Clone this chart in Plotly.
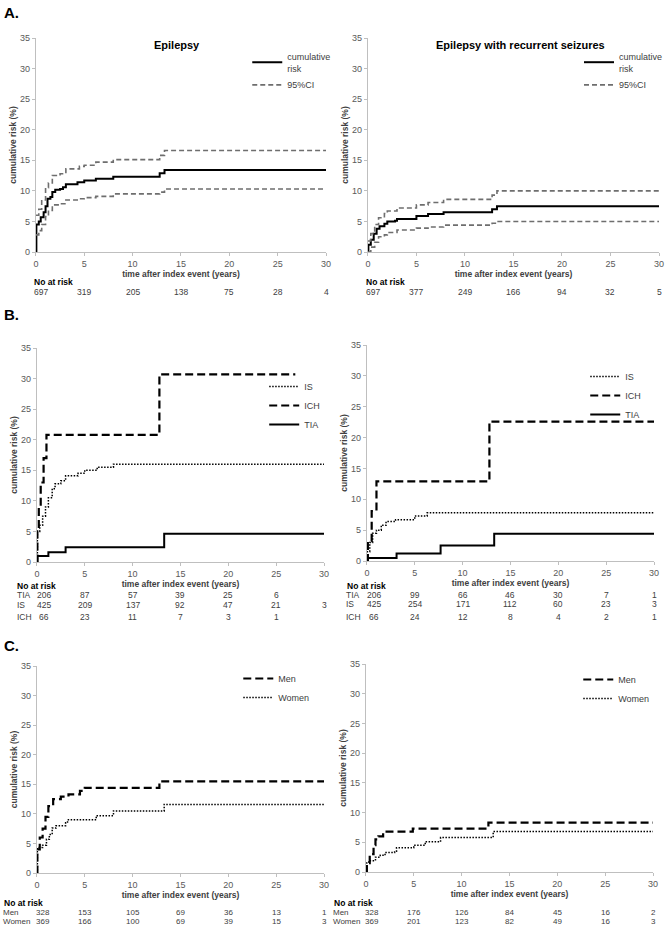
import plotly.graph_objects as go

W, H = 668, 928
FONT = "Arial, Liberation Sans, sans-serif"

# ---------------- data ----------------
RISK_TICKS = [0, 5, 10, 15, 20, 25, 30]

# A left: Epilepsy
A1_t = [0, 0.05, 0.3, 0.5, 0.8, 1.0, 1.2, 1.5, 1.7, 2.0, 2.5, 2.8, 3.1, 4.3, 5.0, 6.2, 8.0, 12.8, 13.3, 30]
A1_risk = [0, 4.5, 5.0, 5.7, 6.5, 7.5, 8.7, 9.0, 9.8, 10.2, 10.3, 10.6, 11.1, 11.4, 11.7, 12.0, 12.3, 12.9, 13.4, 13.4]
A1_ci_t = [0, 0.3, 0.6, 1.0, 1.3, 1.7, 2.5, 3.1, 4.5, 5.0, 6.2, 8.0, 12.8, 13.3, 30]
A1_upper = [6.0, 7.0, 8.5, 10.5, 11.3, 12.5, 12.8, 13.6, 14.0, 14.2, 14.7, 15.1, 15.8, 16.6, 16.6]
A1_lower = [2.8, 3.5, 4.5, 5.8, 6.8, 7.7, 7.9, 8.5, 8.7, 8.9, 9.1, 9.5, 9.8, 10.3, 10.3]
A1_at_risk = [697, 319, 205, 138, 75, 28, 4]

# A right: Epilepsy with recurrent seizures
A2_t = [0, 0.05, 0.3, 0.6, 0.9, 1.2, 1.7, 2.0, 2.8, 3.0, 5.0, 6.2, 7.8, 12.8, 13.3, 30]
A2_risk = [0, 1.2, 2.0, 3.0, 3.8, 4.2, 4.6, 5.0, 5.1, 5.4, 5.9, 6.2, 6.5, 7.0, 7.5, 7.5]
A2_ci_t = [0, 0.3, 0.7, 1.1, 1.7, 2.0, 3.0, 5.0, 6.2, 7.8, 12.8, 13.3, 30]
A2_upper = [1.8, 3.0, 4.5, 5.6, 6.3, 6.7, 7.2, 7.7, 8.1, 8.6, 9.3, 10.0, 10.0]
A2_lower = [0.0, 0.8, 1.6, 2.5, 2.8, 3.2, 3.6, 3.9, 4.1, 4.4, 4.7, 5.0, 5.0]
A2_at_risk = [697, 377, 249, 166, 94, 32, 5]

# B left
B1_ich_t = [0, 0.05, 0.2, 0.4, 0.7, 1.0, 12.8, 27.0]
B1_ich = [0, 5.0, 9.0, 13.0, 17.0, 20.8, 30.7, 30.7]
B1_is_t = [0, 0.05, 0.3, 0.6, 0.9, 1.2, 1.6, 1.9, 2.5, 3.0, 4.3, 5.0, 6.3, 8.0, 30]
B1_is = [0, 5.0, 6.0, 7.5, 9.0, 10.5, 12.0, 12.8, 13.3, 14.1, 14.5, 15.0, 15.5, 16.0, 16.0]
B1_tia_t = [0, 0.05, 1.2, 3.0, 13.3, 30]
B1_tia = [0, 1.0, 1.6, 2.4, 4.6, 4.6]
B1_at_risk_tia = [206, 87, 57, 39, 25, 6]
B1_at_risk_is = [425, 209, 137, 92, 47, 21, 3]
B1_at_risk_ich = [66, 23, 11, 7, 3, 1]

# B right
B2_ich_t = [0, 0.1, 0.5, 1.0, 12.8, 30]
B2_ich = [0, 3.2, 8.1, 12.9, 22.6, 22.6]
B2_is_t = [0, 0.05, 0.3, 0.6, 1.0, 1.5, 2.0, 3.0, 5.0, 6.3, 30]
B2_is = [0, 1.5, 3.0, 4.5, 5.0, 5.8, 6.4, 6.7, 7.3, 7.8, 7.8]
B2_tia_t = [0, 0.05, 3.1, 7.7, 13.3, 30]
B2_tia = [0, 0.5, 1.2, 2.5, 4.4, 4.4]
B2_at_risk_tia = [206, 99, 66, 46, 30, 7, 1]
B2_at_risk_is = [425, 254, 171, 112, 60, 23, 3]
B2_at_risk_ich = [66, 24, 12, 8, 4, 2, 1]

# C left
C1_men_t = [0, 0.05, 0.3, 0.6, 0.9, 1.2, 1.7, 2.5, 3.3, 4.5, 5.0, 12.8, 30]
C1_men = [0, 4.0, 6.0, 7.5, 9.5, 11.3, 12.5, 12.9, 13.3, 13.9, 14.4, 15.5, 15.5]
C1_women_t = [0, 0.05, 0.6, 1.0, 1.3, 1.6, 2.0, 3.0, 3.2, 6.2, 8.0, 13.3, 30]
C1_women = [0, 4.3, 4.7, 5.7, 6.5, 7.6, 8.0, 8.5, 9.0, 9.7, 10.5, 11.6, 11.6]
C1_at_risk_men = [328, 153, 105, 69, 36, 13, 1]
C1_at_risk_women = [369, 166, 100, 69, 39, 15, 3]

# C right
C2_men_t = [0, 0.1, 0.4, 0.8, 1.0, 1.3, 1.8, 4.9, 12.8, 30]
C2_men = [0, 1.5, 3.0, 4.5, 5.5, 6.0, 6.8, 7.3, 8.3, 8.3]
C2_women_t = [0, 0.05, 0.3, 1.0, 1.5, 2.0, 3.0, 3.2, 5.0, 6.2, 7.8, 13.3, 30]
C2_women = [0, 1.5, 1.9, 2.5, 2.8, 3.3, 3.5, 4.1, 4.5, 5.1, 5.8, 6.8, 6.8]
C2_at_risk_men = [328, 176, 126, 84, 45, 16, 2]
C2_at_risk_women = [369, 201, 123, 82, 49, 16, 3]

# ---------------- layout helpers ----------------
def px(x):
    return x / W

def py(y):
    return 1 - y / H

# plot areas in pixels: (left, right, top, bottom)
PANELS = [
    (36, 327, 38, 252),
    (369, 661, 38, 252),
    (37, 325, 348, 562),
    (368, 656, 345, 561),
    (37, 325, 666, 873),
    (367, 655, 664, 872),
]

fig = go.Figure()

BLACK = "#000000"
GREY = "#6e6e6e"

def add(i, t, v, name, color, width, dash, legend, show=True, group=None):
    sfx = "" if i == 1 else str(i)
    fig.add_trace(go.Scatter(
        x=t, y=v, mode="lines", name=name, line=dict(color=color, width=width, dash=dash, shape="hv"),
        xaxis="x" + sfx, yaxis="y" + sfx, legend=legend, showlegend=show,
        legendgroup=group, hoverinfo="skip"))

DASH_CI = "5px,3px"
DASH_L = "8px,4px"
DOT = "1.5px,1.5px"

# A left
add(1, A1_t, A1_risk, "cumulative<br>risk", BLACK, 2, "solid", "legend")
add(1, A1_ci_t, A1_upper, "95%CI", GREY, 1.6, DASH_CI, "legend", True, "ci1")
add(1, A1_ci_t, A1_lower, "95%CI", GREY, 1.6, DASH_CI, "legend", False, "ci1")
# A right
add(2, A2_t, A2_risk, "cumulative<br>risk", BLACK, 2, "solid", "legend2")
add(2, A2_ci_t, A2_upper, "95%CI", GREY, 1.6, DASH_CI, "legend2", True, "ci2")
add(2, A2_ci_t, A2_lower, "95%CI", GREY, 1.6, DASH_CI, "legend2", False, "ci2")
# B left
add(3, B1_is_t, B1_is, "IS", BLACK, 1.5, DOT, "legend3")
add(3, B1_ich_t, B1_ich, "ICH", BLACK, 2.2, DASH_L, "legend3")
add(3, B1_tia_t, B1_tia, "TIA", BLACK, 2, "solid", "legend3")
# B right
add(4, B2_is_t, B2_is, "IS", BLACK, 1.5, DOT, "legend4")
add(4, B2_ich_t, B2_ich, "ICH", BLACK, 2.2, DASH_L, "legend4")
add(4, B2_tia_t, B2_tia, "TIA", BLACK, 2, "solid", "legend4")
# C left
add(5, C1_men_t, C1_men, "Men", BLACK, 2.2, DASH_L, "legend5")
add(5, C1_women_t, C1_women, "Women", BLACK, 1.5, DOT, "legend5")
# C right
add(6, C2_men_t, C2_men, "Men", BLACK, 2.2, DASH_L, "legend6")
add(6, C2_women_t, C2_women, "Women", BLACK, 1.5, DOT, "legend6")

layout = dict(
    width=W, height=H, margin=dict(l=0, r=0, t=0, b=0),
    paper_bgcolor="white", plot_bgcolor="white",
    font=dict(family=FONT, size=9, color="#404040"),
    showlegend=True,
)

for i, (l, r, t, b) in enumerate(PANELS, start=1):
    sfx = "" if i == 1 else str(i)
    layout["xaxis" + sfx] = dict(
        domain=[px(l), px(r)], anchor="y" + sfx, range=[0, 30], tick0=0, dtick=5,
        showline=True, linecolor="#bfbfbf", linewidth=1, ticks="outside", ticklen=3,
        tickcolor="#bfbfbf", showgrid=False, zeroline=False, automargin=False,
        tickfont=dict(size=9, color="#595959"),
        title=dict(text="<b>time after index event (years)</b>", font=dict(size=8.5, color="#404040"), standoff=2),
    )
    layout["yaxis" + sfx] = dict(
        domain=[py(b), py(t)], anchor="x" + sfx, range=[0, 35], tick0=0, dtick=5,
        showline=True, linecolor="#bfbfbf", linewidth=1, ticks="outside", ticklen=3,
        tickcolor="#bfbfbf", showgrid=False, zeroline=False, automargin=False,
        tickfont=dict(size=9, color="#595959"),
        title=dict(text="<b>cumulative risk (%)</b>", font=dict(size=8.5, color="#404040"), standoff=2),
    )

def leg(x, y):
    return dict(x=px(x), y=py(y), xanchor="left", yanchor="top", bgcolor="rgba(0,0,0,0)",
                font=dict(size=9, color="#404040"), itemwidth=30, tracegroupgap=0,
                borderwidth=0)

layout["legend"] = leg(248, 44)
layout["legend2"] = leg(581, 44)
layout["legend3"] = leg(265, 372)
layout["legend4"] = leg(587, 362)
layout["legend5"] = leg(239, 664)
layout["legend6"] = leg(580, 665)

fig.update_layout(**layout)

ann = []

def text(x, y, s, size=9, bold=False, anchor="left", color="#404040", xref="paper", xshift=0):
    ann.append(dict(
        x=x if xref != "paper" else px(x), y=py(y), xref=xref, yref="paper",
        text=("<b>%s</b>" % s) if bold else s, showarrow=False, xanchor=anchor, yanchor="middle",
        font=dict(size=size, color=color, family=FONT), xshift=xshift, borderpad=0))

# panel labels
text(3, 12, "A.", size=15, bold=True, color="#000")
text(3, 314, "B.", size=15, bold=True, color="#000")
text(3, 645, "C.", size=15, bold=True, color="#000")

# titles
text(178, 45, "Epilepsy", size=11, bold=True, anchor="center", color="#000")
text(522, 45, "Epilepsy with recurrent seizures", size=11, bold=True, anchor="center", color="#000")

def risk_row(i, y, values, label=None, label_x=None, size=9, first_shift=5):
    sfx = "" if i == 1 else str(i)
    if label is not None:
        text(label_x, y, label, size=size)
    for k, (tx, n) in enumerate(zip(RISK_TICKS, values)):
        text(tx, y, str(n), size=size, anchor="center", xref="x" + sfx,
             xshift=(first_shift if k == 0 else 0))

# A
text(33, 282, "No at risk", size=8.5, bold=True, color="#000")
risk_row(1, 292, A1_at_risk, size=8.5)
text(366, 282, "No at risk", size=8.5, bold=True, color="#000")
risk_row(2, 292, A2_at_risk, size=8.5)

# B
text(16, 586, "No at risk", size=8.5, bold=True, color="#000")
risk_row(3, 595, B1_at_risk_tia, "TIA", 16, 8.5, 7)
risk_row(3, 605, B1_at_risk_is, "IS", 16, 8.5, 7)
risk_row(3, 617, B1_at_risk_ich, "ICH", 16, 8.5, 7)
text(347, 586, "No at risk", size=8.5, bold=True, color="#000")
risk_row(4, 595, B2_at_risk_tia, "TIA", 346, 8.5, 7)
risk_row(4, 604, B2_at_risk_is, "IS", 346, 8.5, 7)
risk_row(4, 617, B2_at_risk_ich, "ICH", 346, 8.5, 7)

# C
text(3, 903, "No at risk", size=8.5, bold=True, color="#000")
risk_row(5, 912, C1_at_risk_men, "Men", 2, 8, 6)
risk_row(5, 921, C1_at_risk_women, "Women", 2, 8, 6)
text(334, 903, "No at risk", size=8.5, bold=True, color="#000")
risk_row(6, 912, C2_at_risk_men, "Men", 333, 8, 6)
risk_row(6, 921, C2_at_risk_women, "Women", 333, 8, 6)

fig.update_layout(annotations=ann)

fig.write_html(
    "out.html",
    config={"displayModeBar": False},
    post_script="document.documentElement.style.margin='0';document.body.style.margin='0';"
                "document.body.style.padding='0';document.body.style.overflow='hidden';",
)
